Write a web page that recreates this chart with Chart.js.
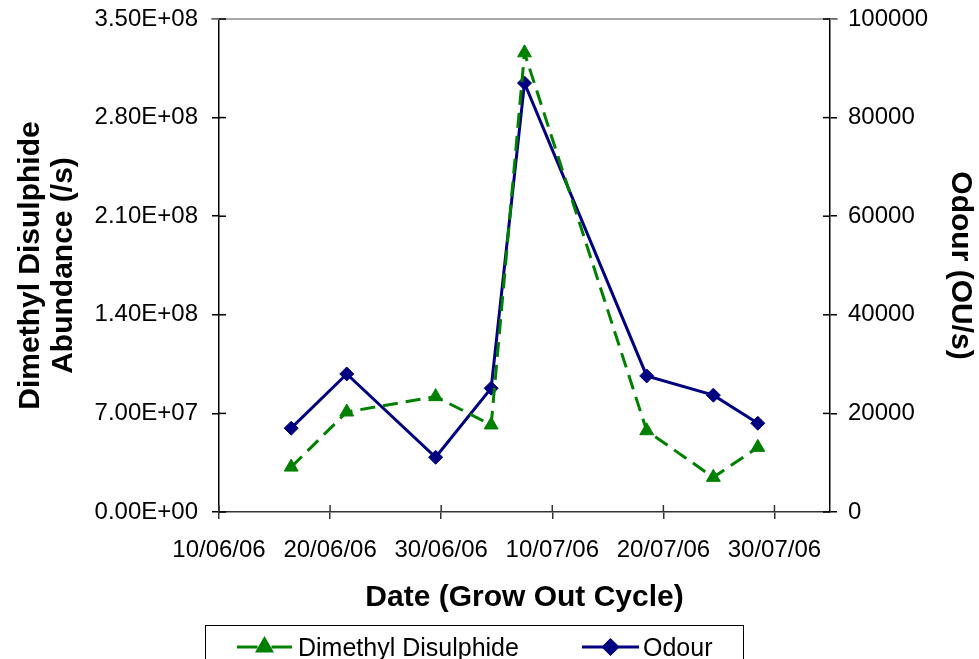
<!DOCTYPE html>
<html>
<head>
<meta charset="utf-8">
<script src="https://cdn.jsdelivr.net/npm/chart.js@4.4.1/dist/chart.umd.min.js"></script>
<style>
  html, body { margin: 0; padding: 0; background: #ffffff; }
  #wrap { width: 979px; height: 659px; }
</style>
</head>
<body>
<div id="wrap"><canvas id="chart" width="979" height="659"></canvas></div>
<script>
// Sampling times over the grow out cycle
const sampleTimes = [
  '2006-06-16T12:00Z', '2006-06-21T12:00Z', '2006-06-29T12:00Z', '2006-07-04T12:00Z',
  '2006-07-07T12:00Z', '2006-07-18T12:00Z', '2006-07-24T12:00Z', '2006-07-28T12:00Z'
];
// Dimethyl disulphide abundance (/s)
const dmdsAbundance = [3.19e7, 7.10e7, 8.19e7, 6.18e7, 3.26e8, 5.77e7, 2.46e7, 4.59e7];
// Odour emission rate (OU/s)
const odourRate = [17000, 28000, 11100, 25100, 87000, 27600, 23700, 18000];

// Axis tick labels
const dateTickLabels = ['10/06/06', '20/06/06', '30/06/06', '10/07/06', '20/07/06', '30/07/06'];
const dmdsTickLabels = ['0.00E+00', '7.00E+07', '1.40E+08', '2.10E+08', '2.80E+08', '3.50E+08'];
const odourTickLabels = ['0', '20000', '40000', '60000', '80000', '100000'];

const axisStart = Date.parse('2006-06-10T00:00Z');
const axisEnd = Date.parse('2006-08-04T00:00Z');
const DAY = 86400000;
const toDay = t => (Date.parse(t) - axisStart) / DAY;

const dmdsPoints = sampleTimes.map((t, i) => ({ x: toDay(t), y: dmdsAbundance[i] }));
const odourPoints = sampleTimes.map((t, i) => ({ x: toDay(t), y: odourRate[i] }));

Chart.defaults.font.family = '"Liberation Sans", Arial, sans-serif';
Chart.defaults.color = '#000000';

const GREEN = '#008000';
const NAVY = '#000080';

// Short tick stubs reaching into the plot area, plus the grey top edge
const innerTicks = {
  id: 'innerTicks',
  beforeDatasetsDraw(chart) {
    const { ctx, chartArea: a, scales } = chart;
    const len = 7;
    ctx.save();
    ctx.lineWidth = 1.5;
    ctx.strokeStyle = '#8c8c8c';
    ctx.beginPath();
    ctx.moveTo(a.left - 8, a.top);
    ctx.lineTo(a.right + 8, a.top);
    ctx.stroke();
    ctx.strokeStyle = '#000000';
    scales.y.ticks.forEach(t => {
      const y = scales.y.getPixelForValue(t.value);
      ctx.beginPath(); ctx.moveTo(a.left, y); ctx.lineTo(a.left + len, y); ctx.stroke();
    });
    scales.y1.ticks.forEach(t => {
      const y = scales.y1.getPixelForValue(t.value);
      ctx.beginPath(); ctx.moveTo(a.right, y); ctx.lineTo(a.right - len, y); ctx.stroke();
    });
    ctx.strokeStyle = '#333333';
    scales.x.ticks.forEach(t => {
      const x = scales.x.getPixelForValue(t.value);
      ctx.beginPath(); ctx.moveTo(x, a.bottom); ctx.lineTo(x, a.bottom - len); ctx.stroke();
    });
    ctx.restore();
  }
};

// Boxed legend below the axis title
const boxedLegend = {
  id: 'boxedLegend',
  afterDraw(chart) {
    const ctx = chart.ctx;
    const slots = [
      { l: 237, r: 292, text: 298 },
      { l: 582, r: 639, text: 643 }
    ];
    const symY = 647;
    ctx.save();
    ctx.lineWidth = 1;
    ctx.strokeStyle = '#000000';
    ctx.strokeRect(205.5, 625.5, 538, 60);
    chart.data.datasets.forEach((ds, i) => {
      const s = slots[i];
      const cx = (s.l + s.r) / 2;
      ctx.strokeStyle = ds.borderColor;
      ctx.fillStyle = ds.pointBackgroundColor;
      ctx.lineWidth = ds.borderWidth;
      ctx.setLineDash([]);
      ctx.beginPath();
      if (ds.borderDash && ds.borderDash.length) {
        ctx.moveTo(s.l, symY); ctx.lineTo(cx - 7, symY);
        ctx.moveTo(cx + 7, symY); ctx.lineTo(s.r, symY);
      } else {
        ctx.moveTo(s.l, symY); ctx.lineTo(s.r, symY);
      }
      ctx.stroke();
      Chart.helpers.drawPoint(ctx, {
        pointStyle: ds.pointStyle, radius: ds.pointRadius, rotation: 0, borderWidth: 1
      }, cx, symY);
      ctx.fillStyle = '#000000';
      ctx.font = '25px "Liberation Sans", Arial, sans-serif';
      ctx.textAlign = 'left';
      ctx.textBaseline = 'alphabetic';
      ctx.fillText(ds.label, s.text, 656);
    });
    ctx.restore();
  }
};

const tickFont = { size: 24 };
const titleFont = { size: 30, weight: 'bold', lineHeight: 1.1 };

// Vertical axes: fixed widths, no extra top/bottom label padding
const fitVertical = width => s => {
  s.width = width;
  s.paddingTop = 0;
  s.paddingBottom = 0;
};

new Chart(document.getElementById('chart'), {
  type: 'line',
  data: {
    datasets: [
      {
        label: 'Dimethyl Disulphide',
        data: dmdsPoints,
        yAxisID: 'y',
        borderColor: GREEN,
        backgroundColor: GREEN,
        pointBackgroundColor: GREEN,
        pointBorderColor: GREEN,
        borderWidth: 3,
        borderDash: [15, 8],
        pointStyle: 'triangle',
        pointRadius: 8,
        pointBorderWidth: 1,
        tension: 0,
        fill: false
      },
      {
        label: 'Odour',
        data: odourPoints,
        yAxisID: 'y1',
        borderColor: NAVY,
        backgroundColor: NAVY,
        pointBackgroundColor: NAVY,
        pointBorderColor: NAVY,
        borderWidth: 3,
        pointStyle: 'rectRot',
        pointRadius: 7,
        pointBorderWidth: 1,
        tension: 0,
        fill: false
      }
    ]
  },
  options: {
    responsive: false,
    animation: false,
    devicePixelRatio: 1,
    layout: { padding: { top: 19, left: 0, right: 0, bottom: 0 } },
    plugins: { legend: { display: false }, tooltip: { enabled: false } },
    scales: {
      x: {
        type: 'linear',
        position: 'bottom',
        min: 0,
        max: (axisEnd - axisStart) / DAY,
        ticks: {
          stepSize: 10,
          includeBounds: false,
          font: tickFont,
          padding: 17,
          maxRotation: 0,
          autoSkip: false,
          callback: (v, i) => dateTickLabels[i]
        },
        grid: { drawOnChartArea: false, drawTicks: true, tickLength: 7, color: '#333333', lineWidth: 1.5 },
        border: { display: true, color: '#333333', width: 1.5 },
        title: { display: true, text: 'Date (Grow Out Cycle)', font: { size: 30, weight: 'bold' }, padding: { top: 0, bottom: 43 } },
        afterFit: s => { s.height = 147; }
      },
      y: {
        type: 'linear',
        position: 'left',
        min: 0,
        max: 3.5e8,
        ticks: { stepSize: 7e7, font: tickFont, padding: 14, callback: (v, i) => dmdsTickLabels[i] },
        grid: { drawOnChartArea: false, drawTicks: true, tickLength: 7, color: '#000000', lineWidth: 1.5 },
        border: { display: true, color: '#000000', width: 1.5 },
        title: { display: true, text: ['Dimethyl Disulphide', 'Abundance (/s)'], font: titleFont, padding: { top: 14, bottom: 0 } },
        afterFit: fitVertical(219)
      },
      y1: {
        type: 'linear',
        position: 'right',
        min: 0,
        max: 100000,
        ticks: { stepSize: 20000, font: tickFont, padding: 11, callback: (v, i) => odourTickLabels[i] },
        grid: { drawOnChartArea: false, drawTicks: true, tickLength: 7, color: '#000000', lineWidth: 1.5 },
        border: { display: true, color: '#000000', width: 1.5 },
        title: { display: true, text: 'Odour (OU/s)', font: titleFont, padding: { top: 2, bottom: 0 } },
        afterFit: fitVertical(149)
      }
    }
  },
  plugins: [innerTicks, boxedLegend]
});
</script>
</body>
</html>
